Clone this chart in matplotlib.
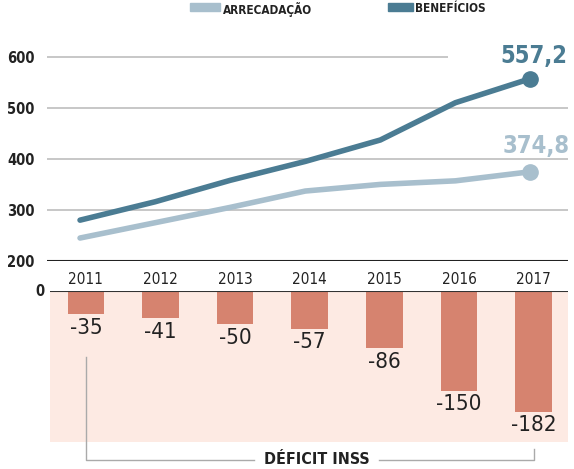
import numpy as np
import matplotlib.pyplot as plt

anos = ['2011', '2012', '2013', '2014', '2015', '2016', '2017']
beneficios = [280, 316, 358, 395, 437, 510, 557.2]
arrecadacao = [245, 275, 305, 337, 350, 357, 374.8]
deficit = [-35, -41, -50, -57, -86, -150, -182]

escuro = '#4b7c93'
claro = '#a8bfcd'
barra = '#d6836f'
rosa = '#fdeae3'

plt.rcParams['font.family'] = ['DejaVu Sans']
plt.rcParams['font.stretch'] = 'condensed'

W, H = 574, 469
fig = plt.figure(figsize=(W / 100, H / 100), dpi=100)
x = np.arange(len(anos))

# eixo de cima: linhas
ax1 = fig.add_axes([47 / W, 1 - 261 / H, 521 / W, 241 / H])
ax1.set_xlim(-0.44, 6.5)
ax1.set_ylim(200, 672)
for v in [300, 400, 500]:
    ax1.axhline(v, color='#bdbdbd', lw=1.2, zorder=1)
ax1.hlines(600, -0.44, 4.9, color='#bdbdbd', lw=1.2, zorder=1)
ax1.axhline(200, color='#222222', lw=1.5, zorder=1)
ax1.plot(x, arrecadacao, color=claro, lw=4, solid_capstyle='round', zorder=3)
ax1.plot(x, beneficios, color=escuro, lw=4, solid_capstyle='round', zorder=3)
ax1.plot(x[-1], arrecadacao[-1], 'o', color=claro, ms=11, zorder=4)
ax1.plot(x[-1], beneficios[-1], 'o', color=escuro, ms=11, zorder=4)
ax1.text(x[-1] + 0.04, beneficios[-1] + 20, '557,2', color=escuro, fontsize=17,
         fontweight='bold', ha='center', va='bottom')
ax1.text(x[-1] + 0.08, arrecadacao[-1] + 26, '374,8', color=claro, fontsize=17,
         fontweight='bold', ha='center', va='bottom')
ax1.set_yticks([200, 300, 400, 500, 600])
ax1.tick_params(axis='y', length=0, pad=9, labelsize=10.5, labelcolor='#222222')
for t in ax1.get_yticklabels():
    t.set_fontweight('bold')
ax1.set_xticks([])
for s in ax1.spines.values():
    s.set_visible(False)
ax1.patch.set_alpha(0)

# eixo de baixo: barras
ax2 = fig.add_axes([50 / W, 1 - 442 / H, 518 / W, 151 / H])
ax2.set_xlim(-0.48, 6.46)
ax2.set_ylim(-227, 0)
ax2.set_facecolor(rosa)
ax2.bar(x, deficit, width=0.49, color=barra, zorder=2)
for xi, v in zip(x, deficit):
    ax2.text(xi, v - 5, str(v), ha='center', va='top', fontsize=16, color='#222222')
ax2.axhline(0, color='#333333', lw=1.5, zorder=3)
ax2.xaxis.tick_top()
ax2.set_xticks(x)
ax2.set_xticklabels(anos)
ax2.tick_params(axis='x', length=0, pad=3, labelsize=11, labelcolor='#222222')
ax2.set_yticks([])
for s in ax2.spines.values():
    s.set_visible(False)
ax2.text(-0.55, 0, '0', ha='right', va='center', fontsize=10.5, fontweight='bold',
         color='#222222')

# colchete "DÉFICIT INSS"
cinza = '#aaaaaa'
ax2.plot([0, 0, 2.25], [-99, -254, -254], color=cinza, lw=1, clip_on=False)
ax2.plot([3.93, 6, 6], [-254, -254, -238], color=cinza, lw=1, clip_on=False)
ax2.text(3.09, -254, 'DÉFICIT INSS', ha='center', va='center', fontsize=11.5,
         fontweight='bold', color='#222222', clip_on=False)

# legenda no topo
fig.patches.append(plt.Rectangle((190 / W, 1 - 11 / H), 30 / W, 8 / H,
                                 transform=fig.transFigure, color=claro))
fig.patches.append(plt.Rectangle((388 / W, 1 - 11 / H), 25 / W, 8 / H,
                                 transform=fig.transFigure, color=escuro))
fig.text(223 / W, 1 - 2 / H, 'ARRECADAÇÃO', fontsize=8.5, fontweight='bold',
         va='top', color='#222222')
fig.text(415 / W, 1 - 2 / H, 'BENEFÍCIOS', fontsize=8.5, fontweight='bold',
         va='top', color='#222222')

fig.savefig('out.png', dpi=100)
